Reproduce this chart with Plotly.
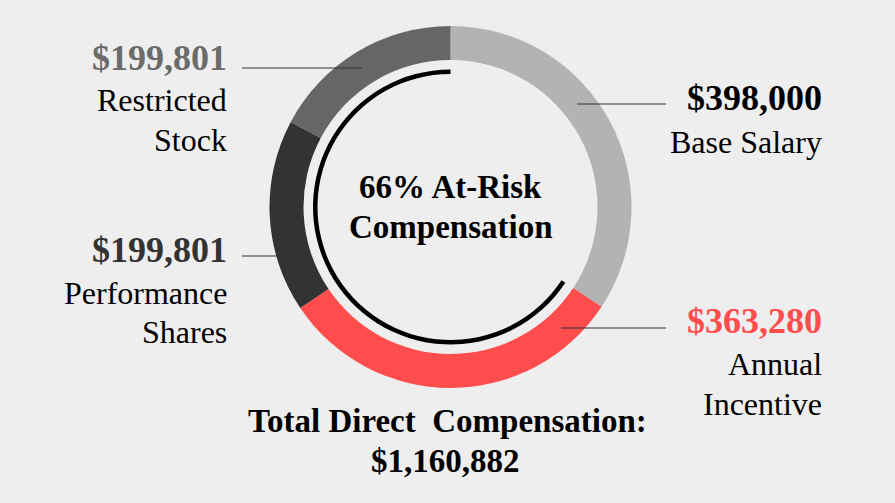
import plotly.graph_objects as go

# compensation components (clockwise from 12 o'clock)
components = ["Base Salary", "Annual Incentive", "Performance Shares", "Restricted Stock"]
amounts = [398000, 363280, 199801, 199801]
slice_colors = ["#b3b3b3", "#ff4d4d", "#333333", "#666666"]
amount_colors = ["#000000", "#ff4d4d", "#333333", "#6b6b6b"]
total = sum(amounts)
at_risk = sum(amounts[1:])

W, H = 895, 503
BG = "#eeeeee"
FONT = "Liberation Serif"
CX, CY = 450.5, 207      # donut centre, px
R_OUT, R_IN = 181, 147   # donut ring
ARC_OUT, ARC_IN = 137.5, 133  # inner black at-risk arc


def px(x):
    return x / W


def py(y):
    return 1 - y / H


def domain(r):
    return dict(x=[px(CX - r), px(CX + r)], y=[py(CY + r), py(CY - r)])


fig = go.Figure()

fig.add_trace(go.Pie(
    labels=components, values=amounts, sort=False, direction="clockwise",
    rotation=0, hole=R_IN / R_OUT, domain=domain(R_OUT),
    marker=dict(colors=slice_colors, line=dict(width=0)),
    textinfo="none", hoverinfo="skip", showlegend=False,
))

# thin arc covering the at-risk part
fig.add_trace(go.Pie(
    labels=["fixed", "at risk"], values=[amounts[0], at_risk], sort=False,
    direction="clockwise", rotation=0, hole=ARC_IN / ARC_OUT, domain=domain(ARC_OUT),
    marker=dict(colors=["rgba(0,0,0,0)", "#000000"], line=dict(width=0)),
    textinfo="none", hoverinfo="skip", showlegend=False,
))


def label(text, x, baseline, size, bold=False, color="#000000", anchor="right"):
    t = f"<b>{text}</b>" if bold else text
    fig.add_annotation(
        x=px(x), y=py(baseline - 0.3375 * size), xref="paper", yref="paper",
        text=t, showarrow=False, xanchor=anchor, yanchor="middle",
        font=dict(family=FONT, size=size, color=color),
    )


BIG, SMALL = 36, 32
# right side labels
label(f"${amounts[0]:,}", 824, 110, BIG, True, amount_colors[0])
label("Base Salary", 824, 153, SMALL)
label(f"${amounts[1]:,}", 824, 333, BIG, True, amount_colors[1])
label("Annual", 824, 375, SMALL)
label("Incentive", 824, 415, SMALL)
# left side labels
label(f"${amounts[3]:,}", 229, 70, BIG, True, amount_colors[3])
label("Restricted", 229, 111, SMALL)
label("Stock", 229, 151, SMALL)
label(f"${amounts[2]:,}", 229, 262, BIG, True, amount_colors[2])
label("Performance", 229, 304, SMALL)
label("Shares", 229, 343, SMALL)

# centre text
pct = round(100 * at_risk / total)
label(f"{pct}% At-Risk", 451, 198, 33, True, anchor="center")
label("Compensation", 451, 238, 33, True, anchor="center")

# total underneath
label("Total Direct\u00a0 Compensation:", 447, 432, 33, True, anchor="center")
label(f"${total:,}", 445, 472, 33, True, anchor="center")

# leader lines
leaders = [(242, 362, 68), (242, 304, 256), (577, 666, 104), (561, 666, 328)]
for x0, x1, y in leaders:
    fig.add_shape(type="line", xref="paper", yref="paper",
                  x0=px(x0), x1=px(x1), y0=py(y), y1=py(y),
                  line=dict(color="#333333", width=1))

fig.update_layout(
    width=W, height=H, margin=dict(l=0, r=0, t=0, b=0),
    paper_bgcolor=BG, plot_bgcolor=BG, showlegend=False,
)

fig.write_html("out.html", config={"displayModeBar": False},
               post_script="document.body.style.margin='0';"
                           "document.body.style.background='" + BG + "';")
